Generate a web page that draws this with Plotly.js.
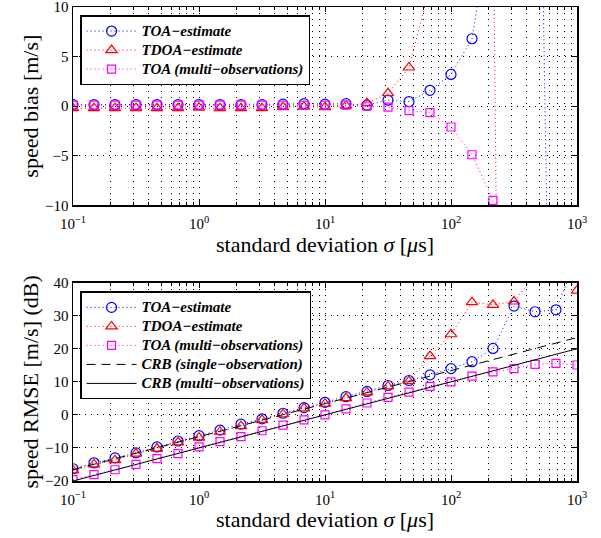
<!DOCTYPE html>
<html><head><meta charset="utf-8">
<script src="https://cdn.plot.ly/plotly-3.0.1.min.js"></script>
<style>body{margin:0;background:#fff}</style>
</head><body><div id="chart" style="width:601px;height:538px"></div>
<script>
// standard deviation sigma [us] (6 points per decade)
const sigma = [0.1, 0.1468, 0.2154, 0.3162, 0.4642, 0.6813, 1, 1.468, 2.154, 3.162, 4.642, 6.813,
  10, 14.68, 21.54, 31.62, 46.42, 68.13, 100, 146.8, 215.4, 316.2, 464.2, 681.3, 1000];

// speed bias [m/s]
const biasTOA = [0.15, 0.15, 0.15, 0.15, 0.15, 0.15, 0.15, 0.15, 0.15, 0.15, 0.2, 0.25,
  0.2, 0.25, 0.1, 0.6, 0.45, 1.6, 3.2, 6.8, 19.5, 40, 60, -66, -80];
const biasTDOA = [-0.2, -0.2, -0.2, -0.2, -0.2, -0.2, -0.15, -0.2, -0.2, -0.2, -0.1, -0.05,
  -0.1, 0.05, 0.3, 1.3, 3.9, 12.1, 25, 40, 21.7, -186, -150, -120, -100];
const biasTOAmulti = [0.1, 0.1, 0.1, 0.1, 0.1, 0.1, 0.1, 0.1, 0.1, 0.1, 0.1, 0.1,
  0.1, 0.1, 0.0, -0.1, -0.45, -0.65, -2.1, -4.9, -9.5, -40, -60, -70, -80];

// speed RMSE [m/s] (dB)
const rmseTOA = [-16.3, -14.5, -13.0, -11.5, -9.7, -7.9, -6.3, -4.6, -2.8, -1.2, 0.5, 2.2,
  3.8, 5.5, 7.1, 8.9, 10.4, 12.1, 14.0, 16.1, 20.1, 32.9, 31.2, 31.8, 47.7];
const rmseTDOA = [-16.8, -15.0, -13.7, -11.7, -10.2, -8.3, -6.9, -5.1, -3.4, -1.5, 0.2, 2.0,
  3.4, 5.1, 6.8, 8.6, 10.2, 17.8, 24.4, 34.1, 33.3, 34.3, 42.3, 45, 37.6];
const rmseTOAmulti = [-19.6, -18.1, -16.6, -15.0, -13.2, -11.7, -9.7, -8.1, -6.6, -4.8, -3.1, -1.5,
  0.0, 1.8, 3.6, 5.3, 6.9, 8.6, 10.0, 11.7, 13.0, 14.0, 15.3, 15.6, 15.1];
const crbSigma = [0.1, 1000];
const crbSingle = [-16.6, 23.4];
const crbMulti = [-20.0, 20.0];

const seriesNames = ['TOA\u2212estimate', 'TDOA\u2212estimate', 'TOA (multi\u2212observations)',
  'CRB (single\u2212observation)', 'CRB (multi\u2212observations)'];
const xTickVals = [0.1, 1, 10, 100, 1000];
const xTickText = ['10<sup>\u22121</sup>', '10<sup>0</sup>', '10<sup>1</sup>', '10<sup>2</sup>', '10<sup>3</sup>'];
const biasTickVals = [-10, -5, 0, 5, 10];
const rmseTickVals = [-20, -10, 0, 10, 20, 30, 40];
const xTitle = 'standard deviation <i>\u03c3</i> [<i>\u03bc</i>s]';
const yTitleBias = 'speed bias [m/s]';
const yTitleRmse = 'speed RMSE [m/s] (dB)';

const BLUE = '#0000ff', RED = '#ff0000', MAG = '#ff00ff';
const DOT = '1px,3px';
const FONT = 'Liberation Serif, Times New Roman, serif';
const PAD = '\u00a0\u00a0\u00a0\u00a0';

function lbl(s) { return '<span style="font-size:15px">' + s + '</span>'; }

function est(y, name, color, symbol, size, xa, ya, lg) {
  return {x: sigma, y: y, name: lbl(name), xaxis: xa, yaxis: ya, legend: lg, mode: 'lines+markers',
    line: {color: color, width: 1, dash: DOT},
    marker: {symbol: symbol, size: size, color: color, line: {color: color, width: 1.2}},
    cliponaxis: true};
}

const traces = [
  est(biasTOA, seriesNames[0], BLUE, 'circle-open', 10, 'x', 'y', 'legend'),
  est(biasTDOA, seriesNames[1], RED, 'triangle-up-open', 10, 'x', 'y', 'legend'),
  est(biasTOAmulti, seriesNames[2], MAG, 'square-open', 8, 'x', 'y', 'legend'),
  est(rmseTOA, seriesNames[0], BLUE, 'circle-open', 10, 'x2', 'y2', 'legend2'),
  est(rmseTDOA, seriesNames[1], RED, 'triangle-up-open', 10, 'x2', 'y2', 'legend2'),
  est(rmseTOAmulti, seriesNames[2], MAG, 'square-open', 8, 'x2', 'y2', 'legend2'),
  {x: crbSigma, y: crbSingle, name: lbl(seriesNames[3]), xaxis: 'x2', yaxis: 'y2', legend: 'legend2',
   mode: 'lines', line: {color: '#000', width: 1, dash: '9px,6px'}},
  {x: crbSigma, y: crbMulti, name: lbl(seriesNames[4]), xaxis: 'x2', yaxis: 'y2', legend: 'legend2',
   mode: 'lines', line: {color: '#000', width: 1}}
];

const gridStyle = {showgrid: true, gridcolor: '#000', gridwidth: 1, griddash: '1px,5px'};

function xAxis(anchor) {
  return Object.assign({
    type: 'log', range: [-1, 3], anchor: anchor, domain: [0, 1],
    tickmode: 'array', tickvals: xTickVals, ticktext: xTickText,
    ticks: 'inside', ticklen: 5, tickcolor: '#000', tickwidth: 1,
    ticklabelstandoff: 4, ticklabeloverflow: 'allow',
    showline: true, linecolor: '#000', linewidth: 1.5, mirror: 'allticks',
    tickfont: {family: FONT, size: 15, color: '#000'},
    title: {text: xTitle + PAD.slice(0, 3), font: {family: FONT, size: 22, color: '#000'}, standoff: 4},
    minor: {dtick: 'D1', ticks: 'inside', ticklen: 3, tickcolor: '#000', showgrid: true,
      gridcolor: '#000', gridwidth: 1, griddash: '1px,5px'},
    zeroline: false
  }, gridStyle);
}

function yAxis(anchor, range, vals, domain, title) {
  return Object.assign({
    range: range, tickmode: 'array', tickvals: vals, anchor: anchor, domain: domain,
    ticks: 'inside', ticklen: 5, tickcolor: '#000', ticklabeloverflow: 'allow',
    showline: true, linecolor: '#000', linewidth: 1.5, mirror: 'allticks',
    tickfont: {family: FONT, size: 15, color: '#000'},
    title: {text: title + PAD, font: {family: FONT, size: 22, color: '#000'}, standoff: 0},
    zeroline: false
  }, gridStyle);
}

const legendStyle = {
  xref: 'paper', yref: 'paper', xanchor: 'left', yanchor: 'top',
  bgcolor: '#fff', bordercolor: '#000', borderwidth: 1.5,
  font: {family: FONT, size: 12, color: '#000', weight: 'bold', style: 'italic'},
  itemwidth: 50, tracegroupgap: 0
};

const layout = {
  width: 601, height: 538,
  margin: {l: 73, r: 24, t: 7, b: 57},
  paper_bgcolor: '#fff', plot_bgcolor: '#fff',
  showlegend: true,
  xaxis: xAxis('y'),
  yaxis: yAxis('x', [-10, 10], biasTickVals, [0.5816, 1], yTitleBias),
  xaxis2: xAxis('y2'),
  yaxis2: yAxis('x2', [-20, 40], rmseTickVals, [0, 0.4184], yTitleRmse),
  legend: Object.assign({x: 0.014, y: 0.983}, legendStyle),
  legend2: Object.assign({x: 0.014, y: 0.400}, legendStyle)
};

Plotly.newPlot('chart', traces, layout, {staticPlot: true, displayModeBar: false});
</script>
</body></html>
